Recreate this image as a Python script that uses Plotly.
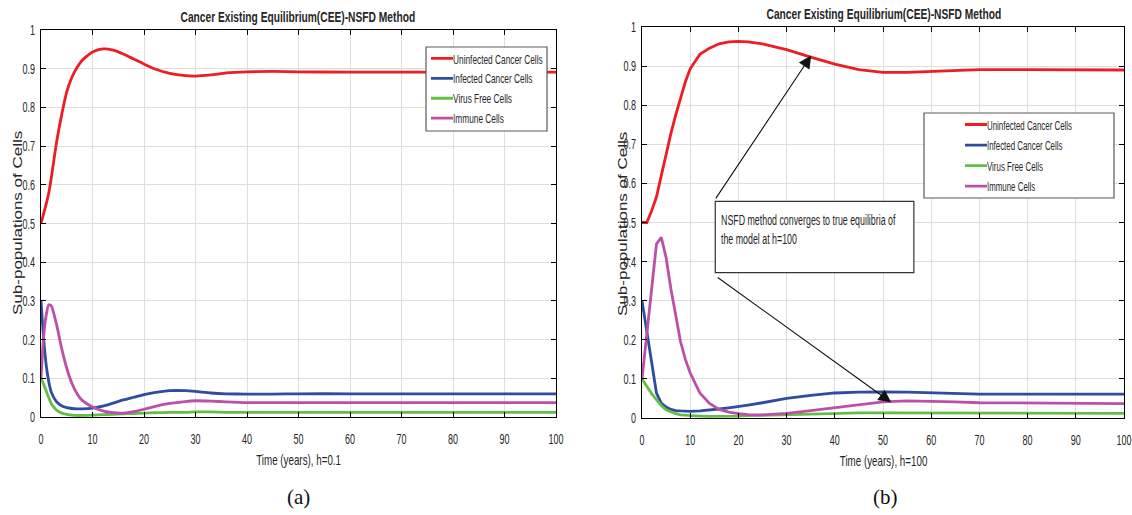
import json
import plotly.graph_objects as go

# ---------------- data ----------------
t_a = [0, 0.5, 1, 1.5, 2, 3, 4, 5, 6, 7, 8, 10, 12, 14, 16, 18, 20, 22, 25, 28, 30, 33, 36, 40, 45, 50, 60, 70, 80, 90, 100]
unin_a = [0.50, 0.525, 0.55, 0.578, 0.618, 0.708, 0.78, 0.84, 0.878, 0.903, 0.922, 0.943, 0.951, 0.948, 0.938, 0.925, 0.912, 0.900, 0.888, 0.882, 0.881, 0.884, 0.889, 0.892, 0.893, 0.892, 0.891, 0.891, 0.891, 0.891, 0.891]
inf_a = [0.30, 0.205, 0.135, 0.092, 0.064, 0.040, 0.029, 0.024, 0.022, 0.021, 0.021, 0.023, 0.028, 0.036, 0.044, 0.051, 0.058, 0.063, 0.068, 0.068, 0.066, 0.062, 0.060, 0.059, 0.059, 0.060, 0.060, 0.060, 0.060, 0.060, 0.060]
vir_a = [0.10, 0.085, 0.068, 0.050, 0.034, 0.018, 0.010, 0.007, 0.005, 0.004, 0.004, 0.005, 0.006, 0.007, 0.008, 0.009, 0.010, 0.011, 0.012, 0.012, 0.013, 0.013, 0.012, 0.012, 0.012, 0.012, 0.012, 0.012, 0.012, 0.012, 0.012]
imm_a = [0.10, 0.205, 0.262, 0.290, 0.287, 0.240, 0.178, 0.126, 0.087, 0.060, 0.043, 0.026, 0.016, 0.011, 0.010, 0.014, 0.020, 0.027, 0.035, 0.040, 0.042, 0.041, 0.039, 0.037, 0.037, 0.037, 0.037, 0.037, 0.037, 0.037, 0.037]

t_b = [0, 1, 2, 3, 4, 5, 6, 7, 8, 9, 10, 12, 14, 16, 18, 20, 22, 25, 28, 30, 35, 40, 45, 50, 55, 60, 65, 70, 80, 90, 100]
unin_b = [0.50, 0.50, 0.53, 0.565, 0.62, 0.676, 0.728, 0.775, 0.815, 0.860, 0.893, 0.930, 0.946, 0.957, 0.962, 0.963, 0.962, 0.957, 0.948, 0.942, 0.923, 0.905, 0.891, 0.884, 0.884, 0.886, 0.889, 0.891, 0.891, 0.890, 0.890]
inf_b = [0.30, 0.222, 0.132, 0.064, 0.038, 0.028, 0.022, 0.019, 0.018, 0.017, 0.017, 0.018, 0.020, 0.023, 0.026, 0.029, 0.033, 0.039, 0.046, 0.050, 0.058, 0.064, 0.066, 0.067, 0.066, 0.064, 0.062, 0.061, 0.061, 0.061, 0.061]
vir_b = [0.10, 0.080, 0.062, 0.047, 0.032, 0.021, 0.015, 0.011, 0.008, 0.007, 0.006, 0.005, 0.004, 0.004, 0.005, 0.005, 0.006, 0.007, 0.008, 0.009, 0.011, 0.013, 0.013, 0.013, 0.013, 0.013, 0.012, 0.012, 0.012, 0.012, 0.012]
imm_b = [0.10, 0.215, 0.33, 0.445, 0.462, 0.41, 0.33, 0.26, 0.195, 0.15, 0.115, 0.064, 0.037, 0.022, 0.015, 0.011, 0.0085, 0.008, 0.010, 0.012, 0.019, 0.026, 0.034, 0.041, 0.044, 0.043, 0.041, 0.039, 0.038, 0.037, 0.037]

series_names = ["Uninfected Cancer Cells", "Infected Cancer Cells", "Virus Free Cells", "Immune Cells"]
colors = ["#EE1C25", "#2F4DA0", "#63BE45", "#BE4FA7"]

title_text = "Cancer Existing Equilibrium(CEE)-NSFD Method"
xtitle_a = "Time (years), h=0.1"
xtitle_b = "Time (years), h=100"
ytitle = "Sub-populations of Cells"
note_text = "NSFD method converges to true equilibria of<br>the model at h=100"

SANS = "Liberation Sans, Arial, sans-serif"
SERIF = "Liberation Serif, Times New Roman, serif"
INK = "#262626"
W, H = 1132, 515

def px(x):
    return x / W

def py(y):
    return 1 - y / H

fig = go.Figure()

for name, col, ya in zip(series_names, colors, [unin_a, inf_a, vir_a, imm_a]):
    fig.add_trace(go.Scatter(x=t_a, y=ya, mode="lines", name=name,
                             line=dict(color=col, width=2.8, shape="spline", smoothing=0.6),
                             xaxis="x", yaxis="y", legend="legend"))
for name, col, yb in zip(series_names, colors, [unin_b, inf_b, vir_b, imm_b]):
    fig.add_trace(go.Scatter(x=t_b, y=yb, mode="lines", name=name,
                             line=dict(color=col, width=2.8),
                             xaxis="x2", yaxis="y2", legend="legend2"))

axis_common = dict(showline=True, linecolor="#000000", linewidth=1, mirror="ticks",
                   ticks="inside", ticklen=5, tickcolor="#000000", automargin=False,
                   ticklabeloverflow="allow",
                   showgrid=True, gridcolor="#DEDEDE", gridwidth=1, zeroline=False,
                   tickfont=dict(family=SANS, size=14.5, color=INK))

fig.update_layout(
    width=W, height=H, paper_bgcolor="white", plot_bgcolor="white",
    margin=dict(l=0, r=0, t=0, b=0, autoexpand=False),
    xaxis=dict(domain=[px(41), px(556)], range=[0, 100], dtick=10, anchor="y",
               ticklabelstandoff=9, **axis_common),
    yaxis=dict(domain=[py(417), py(30)], range=[0, 1], dtick=0.1, anchor="x",
               ticklabelstandoff=2, **axis_common),
    xaxis2=dict(domain=[px(642), px(1124)], range=[0, 100], dtick=10, anchor="y2",
                ticklabelstandoff=9, **axis_common),
    yaxis2=dict(domain=[py(418), py(27)], range=[0, 1], dtick=0.1, anchor="x2",
                ticklabelstandoff=2, **axis_common),
    legend=dict(x=px(413), y=py(43.5), xanchor="left", yanchor="top",
                bgcolor="rgba(0,0,0,0)", borderwidth=0, itemwidth=30,
                font=dict(family=SANS, size=13, color=INK), tracegroupgap=0),
    legend2=dict(x=px(947), y=py(109.2), xanchor="left", yanchor="top",
                 bgcolor="rgba(0,0,0,0)", borderwidth=0, itemwidth=30,
                 font=dict(family=SANS, size=13.5, color=INK), tracegroupgap=0),
    showlegend=True,
)

shapes = [
    # legend boxes
    dict(type="rect", xref="paper", yref="paper", x0=px(426), x1=px(547), y0=py(131), y1=py(47),
         line=dict(color="#5A5A5A", width=1.2), fillcolor="white", layer="above"),
    dict(type="rect", xref="paper", yref="paper", x0=px(924), x1=px(1114), y0=py(198), y1=py(113),
         line=dict(color="#5A5A5A", width=1.2), fillcolor="white", layer="above"),
    # note box
    dict(type="rect", xref="x2", yref="y2", x0=15.2, x1=56.4, y0=0.372, y1=0.554,
         line=dict(color="#333333", width=1.2), fillcolor="white", layer="above"),
]
fig.update_layout(shapes=shapes)

annotations = [
    dict(text=f"<b>{title_text}</b>", xref="paper", yref="paper", x=px(298), y=py(16.5),
         showarrow=False, xanchor="center", yanchor="middle",
         font=dict(family=SANS, size=15.5, color=INK)),
    dict(text=f"<b>{title_text}</b>", xref="paper", yref="paper", x=px(884), y=py(13.5),
         showarrow=False, xanchor="center", yanchor="middle",
         font=dict(family=SANS, size=15.5, color=INK)),
    dict(text=xtitle_a, xref="paper", yref="paper", x=px(298), y=py(460),
         showarrow=False, xanchor="center", yanchor="middle",
         font=dict(family=SANS, size=14, color=INK)),
    dict(text=xtitle_b, xref="paper", yref="paper", x=px(883), y=py(461),
         showarrow=False, xanchor="center", yanchor="middle",
         font=dict(family=SANS, size=14, color=INK)),
    dict(text=ytitle, xref="paper", yref="paper", x=px(17), y=py(223), textangle=-90,
         showarrow=False, xanchor="center", yanchor="middle",
         font=dict(family=SANS, size=17, color=INK)),
    dict(text=ytitle, xref="paper", yref="paper", x=px(623), y=py(224), textangle=-90,
         showarrow=False, xanchor="center", yanchor="middle",
         font=dict(family=SANS, size=17, color=INK)),
    dict(text="(a)", xref="paper", yref="paper", x=px(298), y=py(497),
         showarrow=False, xanchor="center", yanchor="middle",
         font=dict(family=SERIF, size=21, color="#111111")),
    dict(text="(b)", xref="paper", yref="paper", x=px(885), y=py(497),
         showarrow=False, xanchor="center", yanchor="middle",
         font=dict(family=SERIF, size=21, color="#111111")),
    # note text
    dict(text=note_text, xref="x2", yref="y2", x=16.0, y=0.482, align="left",
         showarrow=False, xanchor="left", yanchor="middle",
         font=dict(family=SANS, size=15, color=INK)),
    # arrows
    dict(text="", xref="x2", yref="y2", x=35.1, y=0.927, axref="x2", ayref="y2",
         ax=15.1, ay=0.558, showarrow=True, arrowhead=2, arrowsize=2.3, arrowwidth=1.1,
         arrowcolor="#111111"),
    dict(text="", xref="x2", yref="y2", x=51.7, y=0.040, axref="x2", ayref="y2",
         ax=15.4, ay=0.362, showarrow=True, arrowhead=2, arrowsize=2.3, arrowwidth=1.1,
         arrowcolor="#111111"),
]
fig.update_layout(annotations=annotations)

# The reference figure was squeezed horizontally, so its Arial-like texts look condensed.
ann_sx = {"0": 0.66, "1": 0.66, "2": 0.70, "3": 0.70, "8": 0.59}
ann_sy = {"4": 0.75, "5": 0.75}
post = """
var gd = document.querySelector('.js-plotly-plot');
var ANNSX = %s, ANNSY = %s;
var TICKSX = 0.62;
function legendClass(el){
  var g = el.parentNode;
  while (g && g !== gd) {
    var c = (g.getAttribute && g.getAttribute('class')) || '';
    var m = c.match(/(^|\\s)(legend\\d*)(\\s|$)/);
    if (m) return m[2];
    g = g.parentNode;
  }
  return null;
}
function squeeze(){
  gd.querySelectorAll('text').forEach(function(el){
    var t = el.getAttribute('transform') || '';
    if (t.indexOf('scale(') >= 0) return;
    var sx = null, sy = null;
    var p = el.parentNode;
    var pcls = (p && p.getAttribute && p.getAttribute('class')) || '';
    if (/(^|\\s)[xy]\\d*tick(\\s|$)/.test(pcls)) { sx = TICKSX; }
    else if (el.closest('g.traces')) {
      var lc = legendClass(el);
      sx = (lc === 'legend2') ? 0.585 : 0.64;
    }
    else if (el.closest('g.annotation')) {
      var idx = el.closest('g.annotation').getAttribute('data-index');
      if (ANNSX[idx]) sx = ANNSX[idx];
      if (ANNSY[idx]) sy = ANNSY[idx];
    }
    if (sx) {
      var x = parseFloat(el.getAttribute('x') || '0');
      el.setAttribute('transform', t + ' translate(' + x + ',0) scale(' + sx + ',1) translate(' + (-x) + ',0)');
    } else if (sy) {
      var y = parseFloat(el.getAttribute('y') || '0') - 5;
      el.setAttribute('transform', t + ' translate(0,' + y + ') scale(1,' + sy + ') translate(0,' + (-y) + ')');
    }
  });
  gd.querySelectorAll('g.legendlines path').forEach(function(p){ p.setAttribute('d', 'M18,0h22'); });
}
squeeze();
setTimeout(squeeze, 200);
setTimeout(squeeze, 800);
""" % (json.dumps(ann_sx), json.dumps(ann_sy))

fig.write_html("out.html", post_script=post)
